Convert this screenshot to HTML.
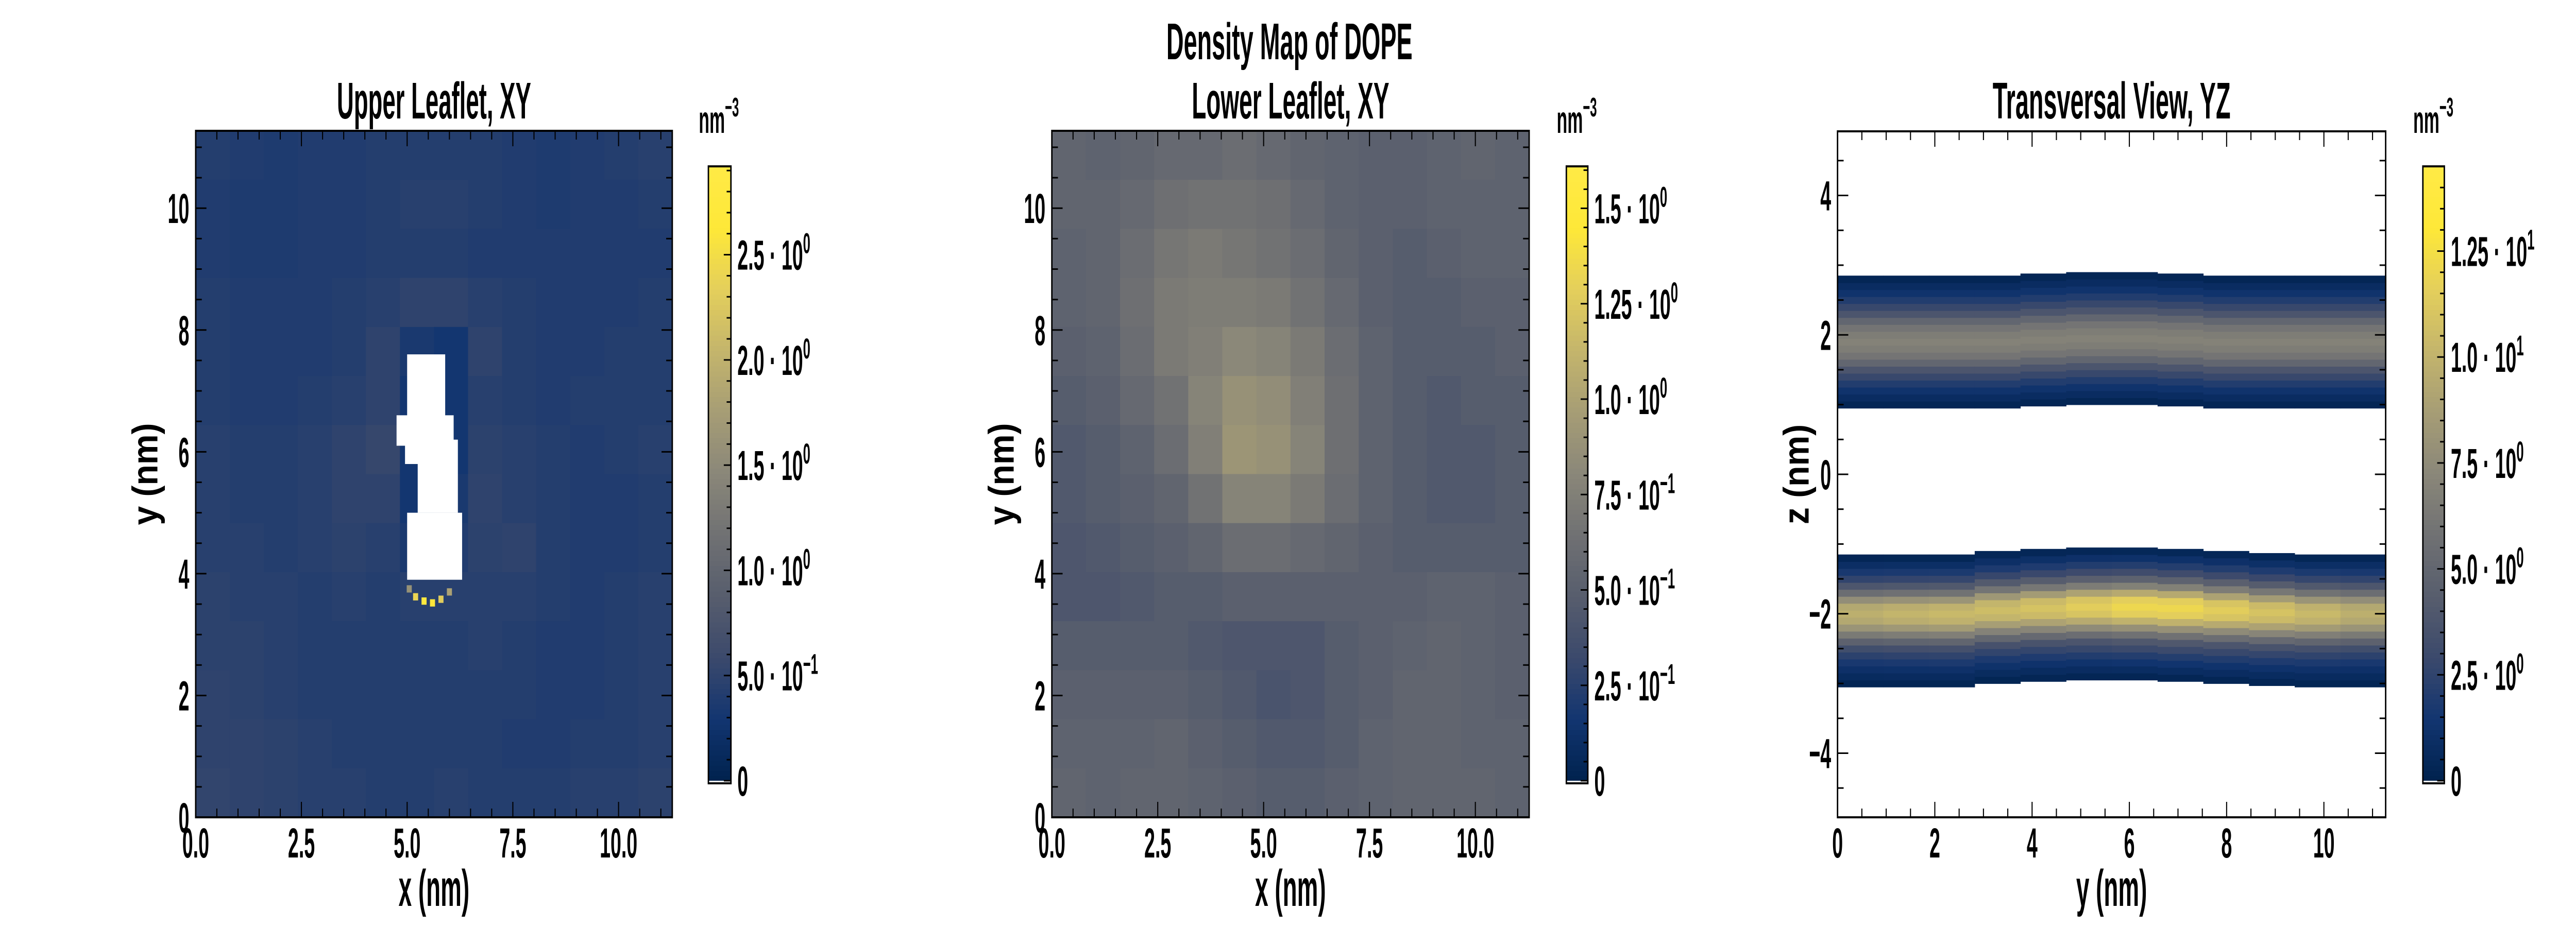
<!DOCTYPE html>
<html><head><meta charset="utf-8">
<style>
html,body{margin:0;padding:0;background:#fff;width:100%;height:100%;overflow:hidden;}
svg{display:block;width:100vw;height:100vh;}
text{font-family:"Liberation Sans",sans-serif;fill:#000;font-weight:bold;}
</style></head>
<body>
<svg id="fig" xmlns="http://www.w3.org/2000/svg" viewBox="0 0 7200 1800" preserveAspectRatio="none">
<rect x="0" y="0" width="7200" height="1800" fill="#fff"/>
<text x="3604" y="115" font-size="100" text-anchor="middle" textLength="688" lengthAdjust="spacingAndGlyphs">Density Map of DOPE</text>
</svg>
<script>
// ---------- data ----------
const upperGrid = [
[.42,.40,.38,.40,.40,.42,.42,.42,.42,.40,.38,.40,.42,.45],
[.40,.38,.38,.40,.40,.42,.45,.45,.42,.40,.38,.40,.40,.42],
[.40,.38,.38,.40,.40,.42,.42,.42,.40,.40,.40,.40,.40,.40],
[.42,.40,.40,.40,.42,.45,.50,.50,.45,.42,.40,.40,.40,.42],
[.42,.40,.40,.40,.42,.50,.35,.30,.50,.42,.40,.40,.42,.42],
[.42,.40,.40,.42,.45,.50,.30,.30,.45,.42,.40,.42,.42,.42],
[.45,.42,.42,.45,.50,.55,.30,.30,.48,.45,.42,.40,.42,.45],
[.45,.42,.42,.45,.50,.50,.30,.35,.50,.45,.42,.40,.40,.42],
[.45,.45,.42,.45,.48,.45,.35,.40,.48,.50,.42,.40,.40,.42],
[.48,.45,.45,.42,.45,.42,.45,.45,.45,.45,.42,.40,.42,.45],
[.48,.48,.45,.42,.42,.42,.42,.42,.45,.42,.40,.40,.42,.45],
[.50,.48,.45,.42,.42,.42,.42,.42,.42,.42,.40,.40,.42,.45],
[.50,.50,.48,.45,.42,.42,.42,.42,.42,.40,.40,.42,.42,.45],
[.52,.50,.48,.45,.45,.42,.42,.45,.42,.42,.42,.45,.45,.48]];
const upperHoles = [[5.0,5.9,6.2,7.6],[4.75,6.1,6.1,6.6],[5.25,6.2,5.0,6.2],[5.0,6.3,3.9,5.0],[4.95,6.0,5.8,6.3]];
const upperHotX = [5.05,5.2,5.4,5.6,5.8,6.0,6.15,6.1];
const upperHotY = [3.75,3.62,3.55,3.52,3.58,3.7,4.05,4.25];
const upperHotV = [1.6,2.4,2.8,2.6,2.3,1.8,2.2,1.5];
const lowerGrid = [
[.55,.53,.55,.58,.58,.61,.58,.55,.53,.51,.51,.53,.55,.53],
[.55,.55,.58,.63,.65,.65,.63,.58,.53,.51,.51,.53,.53,.53],
[.53,.55,.61,.68,.71,.68,.65,.61,.55,.51,.48,.51,.53,.53],
[.53,.55,.63,.71,.73,.73,.71,.65,.58,.51,.48,.48,.51,.51],
[.51,.53,.61,.71,.75,.81,.78,.71,.61,.53,.48,.48,.48,.51],
[.48,.51,.58,.65,.78,.88,.85,.75,.63,.53,.48,.45,.48,.48],
[.45,.48,.53,.61,.75,.91,.88,.78,.63,.53,.48,.45,.45,.48],
[.45,.48,.51,.55,.65,.78,.78,.71,.61,.53,.48,.45,.45,.48],
[.43,.45,.48,.51,.55,.61,.61,.58,.55,.51,.48,.48,.48,.48],
[.43,.43,.45,.48,.48,.51,.51,.51,.51,.51,.51,.53,.53,.51],
[.48,.48,.48,.48,.45,.43,.43,.43,.48,.51,.53,.55,.53,.51],
[.51,.51,.51,.51,.48,.45,.41,.43,.48,.51,.55,.55,.53,.51],
[.53,.53,.53,.55,.51,.48,.45,.45,.48,.53,.55,.55,.53,.53],
[.55,.53,.55,.55,.53,.51,.48,.48,.51,.53,.55,.55,.55,.53]];
const upperBandZ = [1.0,1.1,1.2,1.3,1.4,1.5,1.6,1.7,1.8,1.9,2.0,2.1,2.2,2.3,2.4,2.5,2.6,2.7,2.8];
const upperBandV = [0.3,0.8,1.3,2.0,2.8,3.8,5.0,6.0,6.6,6.9,6.6,6.0,5.0,3.8,2.8,2.0,1.3,0.8,0.3];
const lowerBandZ = [-3.0,-2.9,-2.8,-2.7,-2.6,-2.5,-2.4,-2.3,-2.2,-2.1,-2.0,-1.9,-1.8,-1.7,-1.6,-1.5,-1.4,-1.3,-1.2];
const lowerBandV = [0.3,0.8,1.3,2.0,2.8,3.8,5.5,7.5,9.5,11.0,11.5,11.0,9.0,6.5,4.5,3.0,2.0,1.1,0.4];
const bandY = [0.47,1.41,2.35,3.29,4.23,5.17,6.11,7.05,7.99,8.93,9.87,10.81];
const lowerBandGain = [0.85,0.88,0.9,0.92,0.95,1.0,1.05,1.05,1.0,0.95,0.9,0.85];
const lowerBandShift = [0,0,0,0.05,0.08,0.1,0.1,0.08,0.05,0.02,0,0];
const upperBandShift = [0,0,0,0,0.03,0.05,0.05,0.03,0,0,0,0];
const xTicksLeaf = [0,2.5,5,7.5,10];
const xTickLabelsLeaf = ["0.0","2.5","5.0","7.5","10.0"];
const yTicksLeaf = [0,2,4,6,8,10];
const yTickLabelsLeaf = ["0","2","4","6","8","10"];
const xTicksYZ = [0,2,4,6,8,10];
const xTickLabelsYZ = ["0","2","4","6","8","10"];
const zTicks = [-4,-2,0,2,4];
const zTickLabels = ["\u22124","\u22122","0","2","4"];
const cb1Ticks = [0,0.5,1.0,1.5,2.0,2.5];
const cb1Mant = ["0","5.0","1.0","1.5","2.0","2.5"];
const cb1Exp = ["","\u22121","0","0","0","0"];
const cb2Ticks = [0,0.25,0.5,0.75,1.0,1.25,1.5];
const cb2Mant = ["0","2.5","5.0","7.5","1.0","1.25","1.5"];
const cb2Exp = ["","\u22121","\u22121","\u22121","0","0","0"];
const cb3Ticks = [0,2.5,5,7.5,10,12.5];
const cb3Mant = ["0","2.5","5.0","7.5","1.0","1.25"];
const cb3Exp = ["","0","0","0","1","1"];

// ---------- helpers ----------
const NS="http://www.w3.org/2000/svg";
const svg=document.getElementById('fig');
const SX=0.66;
const cstops=[[0,0,34,78],[0.1,18,53,112],[0.2,59,73,108],[0.3,87,93,109],[0.4,112,113,115],[0.5,138,135,121],[0.6,166,157,117],[0.7,196,181,108],[0.8,228,207,91],[0.9,254,232,56],[1,255,234,70]];
function cividis(t){t=Math.max(0,Math.min(1,t));for(let i=1;i<cstops.length;i++){if(t<=cstops[i][0]){const a=cstops[i-1],b=cstops[i];const f=(t-a[0])/(b[0]-a[0]);return 'rgb('+[1,2,3].map(k=>Math.round(a[k]+(b[k]-a[k])*f)).join(',')+')';}}return 'rgb(255,234,70)';}
function mk(tag,attrs,parent){const e=document.createElementNS(NS,tag);for(const k in attrs)e.setAttribute(k,attrs[k]);(parent||svg).appendChild(e);return e;}
function ntext(x,y,size,anchor,str,rot){
  const tr='translate('+x+' '+y+')'+(rot?' rotate('+rot+')':'')+' scale('+SX+' 1)';
  const t=mk('text',{x:0,y:0,'font-size':size,'text-anchor':anchor,transform:tr});
  if(str!==null)t.textContent=str;return t;}
function makeAxes(x0,y0,w,h,xmin,xmax,ymin,ymax){return {x0,y0,w,h,sx:v=>x0+(v-xmin)/(xmax-xmin)*w,sy:v=>y0+h-(v-ymin)/(ymax-ymin)*h,xmin,xmax,ymin,ymax};}

function drawFrameTicks(ax,prefix,xMaj,xMin,yMaj,yMin){
  const g=mk('g',{});
  
  
  const tick=(x1,y1,x2,y2)=>mk('line',{x1,y1,x2,y2,stroke:'#000','stroke-width':3},g);
  for(let v=ax.xmin;v<=ax.xmax+1e-9;v+=xMin){const X=ax.sx(v);const isMaj=Math.abs(v/xMaj-Math.round(v/xMaj))<1e-6;const L=isMaj?30:17;tick(X,ax.y0+ax.h,X,ax.y0+ax.h-L);tick(X,ax.y0,X,ax.y0+L);}
  const ys=Math.ceil(ax.ymin/yMin)*yMin;
  for(let v=ys;v<=ax.ymax+1e-9;v+=yMin){const Y=ax.sy(v);const isMaj=Math.abs(v/yMaj-Math.round(v/yMaj))<1e-6;const L=isMaj?30:17;tick(ax.x0,Y,ax.x0+L,Y);tick(ax.x0+ax.w,Y,ax.x0+ax.w-L,Y);}
  const fr=mk('rect',{x:ax.x0,y:ax.y0,width:ax.w,height:ax.h,fill:'none',stroke:'#000','stroke-width':4});
  
  
}
function drawTickLabels(ax,prefix,xt,xl,yt,yl){
  xt.forEach((v,i)=>{const t=ntext(ax.sx(v),ax.y0+ax.h+78,82,'middle',xl[i]);
    
    });
  yt.forEach((v,i)=>{const t=ntext(ax.x0-18,ax.sy(v)+29,82,'end',yl[i]);
    
    });
}
function drawLabels(ax,prefix,title,titleW,titleY,xlab,ylab,ylabX){
  const t=mk('text',{x:ax.x0+ax.w/2,y:titleY,'font-size':100,'text-anchor':'middle',textLength:titleW,lengthAdjust:'spacingAndGlyphs'});t.textContent=title;
  
  
  const xl=ntext(ax.x0+ax.w/2,ax.y0+ax.h+172,100,'middle',xlab);
  
  
  const cy=ax.y0+ax.h/2;
  const yl=ntext(ylabX+35,cy,100,'middle',ylab,-90);
  
  
}
function drawColorbar(prefix,cx0,cx1,vmax,ticks,mant,exps,minorStep){
  const top=323,zeroY=1516,bot=1521;
  const vy=v=>zeroY-(v/vmax)*(zeroY-top);
  const g=mk('g',{});
  
  
  const N=120;
  for(let i=0;i<N;i++){const v0=vmax*i/N,v1=vmax*(i+1)/N;mk('rect',{x:cx0,y:vy(v1),width:cx1-cx0,height:vy(v0)-vy(v1)+0.8,fill:cividis((v0+v1)/2/vmax)},g);}
  mk('rect',{x:cx0,y:zeroY,width:cx1-cx0,height:bot-zeroY,fill:'#fff'},g);
  for(let v=0;v<=vmax+1e-9;v+=minorStep){const Y=vy(v);const isMaj=ticks.some(t=>Math.abs(t-v)<1e-6);mk('line',{x1:cx1,y1:Y,x2:cx1-(isMaj?20:12),y2:Y,stroke:'#000','stroke-width':3},g);}
  mk('rect',{x:cx0,y:top,width:cx1-cx0,height:bot-top,fill:'none',stroke:'#000','stroke-width':4},g);
  ticks.forEach((v,i)=>{const t=ntext(cx1+18,vy(v)+29,82,'start',null);
    const m=mk('tspan',{},t);m.textContent=mant[i];
    if(exps[i]!==''){const d=mk('tspan',{},t);d.textContent=' \u00b7 10';const s=mk('tspan',{dy:-32,'font-size':56},t);s.textContent=exps[i];}
    
    });
  const u=ntext(cx0-27,258,74,'start',null);const un=mk('tspan',{},u);un.textContent='nm';const us=mk('tspan',{dy:-32,'font-size':52},u);us.textContent='\u22123';
  
  
}
function drawGrid(ax,prefix,grid,vmax){
  const g=mk('g',{});
  
  
  const n=grid.length,step=(ax.xmax-ax.xmin)/n;
  grid.forEach((row,r)=>row.forEach((v,c)=>{
    const xa=ax.xmin+c*step,ya=ax.ymax-r*step;
    const cell=mk('rect',{x:ax.sx(xa),y:ax.sy(ya),width:ax.sx(xa+step)-ax.sx(xa)+0.8,height:ax.sy(ya-step)-ax.sy(ya)+0.8,fill:cividis(v/vmax)},g);
    
    
  }));
  return g;
}

// ---------- panel 1 ----------
const L=11.27;
const ax1=makeAxes(547,254,1332,1333,0,L,0,L);
const g1=drawGrid(ax1,'upper-leaflet',upperGrid,2.92);
upperHotX.forEach((x,i)=>{const s=0.12;const r=mk('rect',{x:ax1.sx(x-s/2),y:ax1.sy(upperHotY[i]+s/2),width:ax1.sx(s)-ax1.sx(0),height:ax1.sy(0)-ax1.sy(s),fill:cividis(upperHotV[i]/2.92)},g1);
  
  });
upperHoles.forEach(h=>{const r=mk('rect',{x:ax1.sx(h[0]),y:ax1.sy(h[3]),width:ax1.sx(h[1])-ax1.sx(h[0]),height:ax1.sy(h[2])-ax1.sy(h[3]),fill:'#fff'},g1);
  
  });
drawFrameTicks(ax1,'upper-leaflet',2.5,0.5,2,0.5);
drawTickLabels(ax1,'upper-leaflet',xTicksLeaf,xTickLabelsLeaf,yTicksLeaf,yTickLabelsLeaf);
drawLabels(ax1,'upper-leaflet','Upper Leaflet, XY',543,230,'x (nm)','y (nm)',405);
drawColorbar('upper-leaflet',1980,2043,2.92,cb1Ticks,cb1Mant,cb1Exp,0.1);

// ---------- panel 2 ----------
const ax2=makeAxes(2940,254,1334,1333,0,L,0,L);
drawGrid(ax2,'lower-leaflet',lowerGrid,1.61);
drawFrameTicks(ax2,'lower-leaflet',2.5,0.5,2,0.5);
drawTickLabels(ax2,'lower-leaflet',xTicksLeaf,xTickLabelsLeaf,yTicksLeaf,yTickLabelsLeaf);
drawLabels(ax2,'lower-leaflet','Lower Leaflet, XY',552,230,'x (nm)','y (nm)',2798);
drawColorbar('lower-leaflet',4378,4438,1.61,cb2Ticks,cb2Mant,cb2Exp,0.05);

// ---------- panel 3 ----------
const ax3=makeAxes(5136,255,1532,1332,0,L,-4.92,4.92);
const g3=mk('g',{});


const yStep=L/bandY.length;
bandY.forEach((yc,j)=>{
  const xa=yc-yStep/2,xb=yc+yStep/2;
  upperBandZ.forEach((z,i)=>{const zz=z+upperBandShift[j];const r=mk('rect',{x:ax3.sx(xa),y:ax3.sy(zz+0.05),width:ax3.sx(xb)-ax3.sx(xa)+0.8,height:ax3.sy(zz-0.05)-ax3.sy(zz+0.05)+0.8,fill:cividis(upperBandV[i]/14.5)},g3);
    
    });
  lowerBandZ.forEach((z,i)=>{const zz=z+lowerBandShift[j];const r=mk('rect',{x:ax3.sx(xa),y:ax3.sy(zz+0.05),width:ax3.sx(xb)-ax3.sx(xa)+0.8,height:ax3.sy(zz-0.05)-ax3.sy(zz+0.05)+0.8,fill:cividis(lowerBandV[i]*lowerBandGain[j]/14.5)},g3);
    
    });
});
drawFrameTicks(ax3,'transversal',2,0.5,2,0.5);
drawTickLabels(ax3,'transversal',xTicksYZ,xTickLabelsYZ,zTicks,zTickLabels);
drawLabels(ax3,'transversal','Transversal View, YZ',665,230,'y (nm)','z (nm)',5020);
drawColorbar('transversal',6772,6832,14.5,cb3Ticks,cb3Mant,cb3Exp,0.5);
</script>
</body></html>
